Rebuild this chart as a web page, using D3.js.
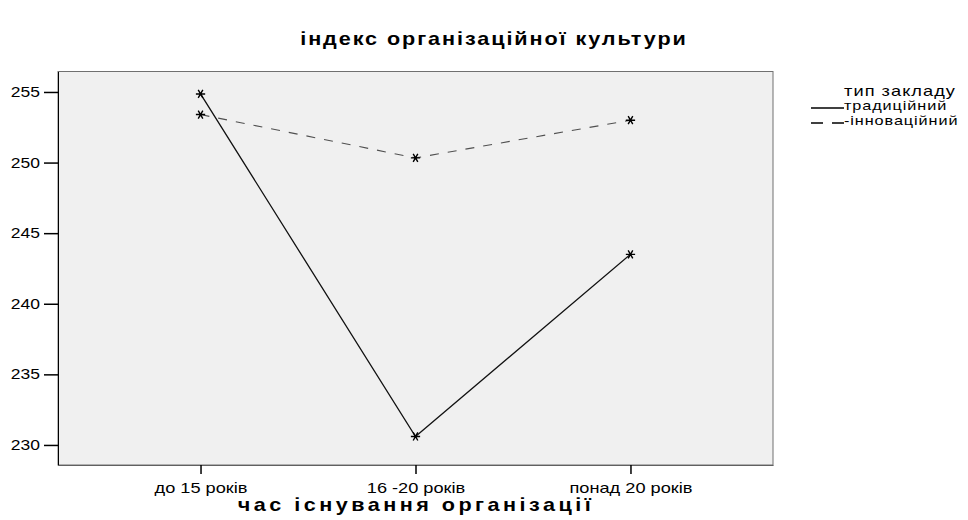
<!DOCTYPE html>
<html>
<head>
<meta charset="utf-8">
<script src="https://cdn.jsdelivr.net/npm/d3@7"></script>
<style>
  body { margin: 0; background: #fff; }
  text { font-family: "Liberation Sans", Arial, sans-serif; fill: #000; }
</style>
</head>
<body>
<svg id="chart" width="968" height="520"></svg>
<script>
// categories and series
var categories = ["до 15 років", "16 -20 років", "понад 20 років"];
var traditional = [254.86, 230.6, 243.5];
var innovative = [253.4, 250.33, 253.0];
var yTicks = [230, 235, 240, 245, 250, 255];
var seriesNames = ["традиційний", "-інноваційний"];

var svg = d3.select("#chart");
var plot = { left: 58, top: 71.5, right: 773, bottom: 465 };
var stretch = 1.25; // reference glyphs are wider than Liberation Sans

var x = d3.scalePoint()
    .domain(categories)
    .range([plot.left, plot.right])
    .padding(0.663);

var y = d3.scaleLinear()
    .domain([228.58, 256.45])
    .range([plot.bottom, plot.top]);

// background of plot area
svg.append("rect")
    .attr("x", plot.left)
    .attr("y", plot.top)
    .attr("width", plot.right - plot.left)
    .attr("height", plot.bottom - plot.top)
    .attr("fill", "#f0f0f0")
    .attr("stroke", "#707070")
    .attr("stroke-width", 1);

// y axis
var yAxis = svg.append("g")
    .attr("transform", "translate(" + plot.left + ",0)")
    .call(d3.axisLeft(y).tickValues(yTicks).tickSize(14).tickSizeOuter(0).tickPadding(4));
yAxis.select(".domain").attr("stroke", "#000");
yAxis.selectAll(".tick line").attr("stroke", "#000").attr("stroke-width", 1.5);
yAxis.selectAll(".tick text")
    .attr("font-family", null)
    .attr("x", -18 / stretch)
    .attr("transform", "scale(" + stretch + ",1)")
    .style("font-size", "14px");

// x axis
var xAxis = svg.append("g")
    .attr("transform", "translate(0," + plot.bottom + ")")
    .call(d3.axisBottom(x).tickSize(9).tickSizeOuter(0).tickPadding(9));
xAxis.select(".domain").attr("stroke", "#606060");
xAxis.selectAll(".tick line").attr("stroke", "#000").attr("stroke-width", 1.5);
xAxis.selectAll(".tick text")
    .attr("font-family", null)
    .attr("transform", "scale(1.3,1)")
    .style("font-size", "14px");

// lines
var line = d3.line()
    .x(function (d, i) { return x(categories[i]); })
    .y(function (d) { return y(d); });

svg.append("path")
    .datum(innovative)
    .attr("d", line)
    .attr("fill", "none")
    .attr("stroke", "#505050")
    .attr("stroke-width", 1.1)
    .attr("stroke-dasharray", "9,9");

svg.append("path")
    .datum(traditional)
    .attr("d", line)
    .attr("fill", "none")
    .attr("stroke", "#111")
    .attr("stroke-width", 1.3);

// star markers
var star = d3.symbol().type(d3.symbolAsterisk).size(60);
[traditional, innovative].forEach(function (series) {
    svg.append("g").selectAll("path")
        .data(series)
        .enter().append("path")
        .attr("d", star)
        .attr("transform", function (d, i) {
            return "translate(" + x(categories[i]) + "," + y(d) + ") rotate(90)";
        })
        .attr("fill", "none")
        .attr("stroke", "#000")
        .attr("stroke-width", 1.4);
});

// titles
svg.append("text")
    .attr("transform", "translate(494,45) scale(1.2,1)")
    .attr("text-anchor", "middle")
    .style("font-size", "18px")
    .style("font-weight", "bold")
    .style("letter-spacing", "1.6px")
    .text("індекс організаційної культури");

svg.append("text")
    .attr("transform", "translate(416,511) scale(1.2,1)")
    .attr("text-anchor", "middle")
    .style("font-size", "18px")
    .style("font-weight", "bold")
    .style("letter-spacing", "2.9px")
    .text("час існування організації");

// legend
var legend = svg.append("g");
legend.append("text")
    .attr("transform", "translate(900,96) scale(1.3,1)")
    .attr("text-anchor", "middle")
    .style("font-size", "14px")
    .style("letter-spacing", "0.8px")
    .text("тип закладу");

var dashes = [null, "12,9"];
var itemY = [108, 123];
seriesNames.forEach(function (name, i) {
    legend.append("line")
        .attr("x1", 811).attr("x2", 844)
        .attr("y1", itemY[i]).attr("y2", itemY[i])
        .attr("stroke", "#000")
        .attr("stroke-width", 1.5)
        .attr("stroke-dasharray", dashes[i]);
    legend.append("text")
        .attr("transform", "translate(844," + (itemY[i] + 2) + ") scale(1.3,1)")
        .style("font-size", "12.5px")
        .style("letter-spacing", "0.7px")
        .text(name);
});
</script>
</body>
</html>
